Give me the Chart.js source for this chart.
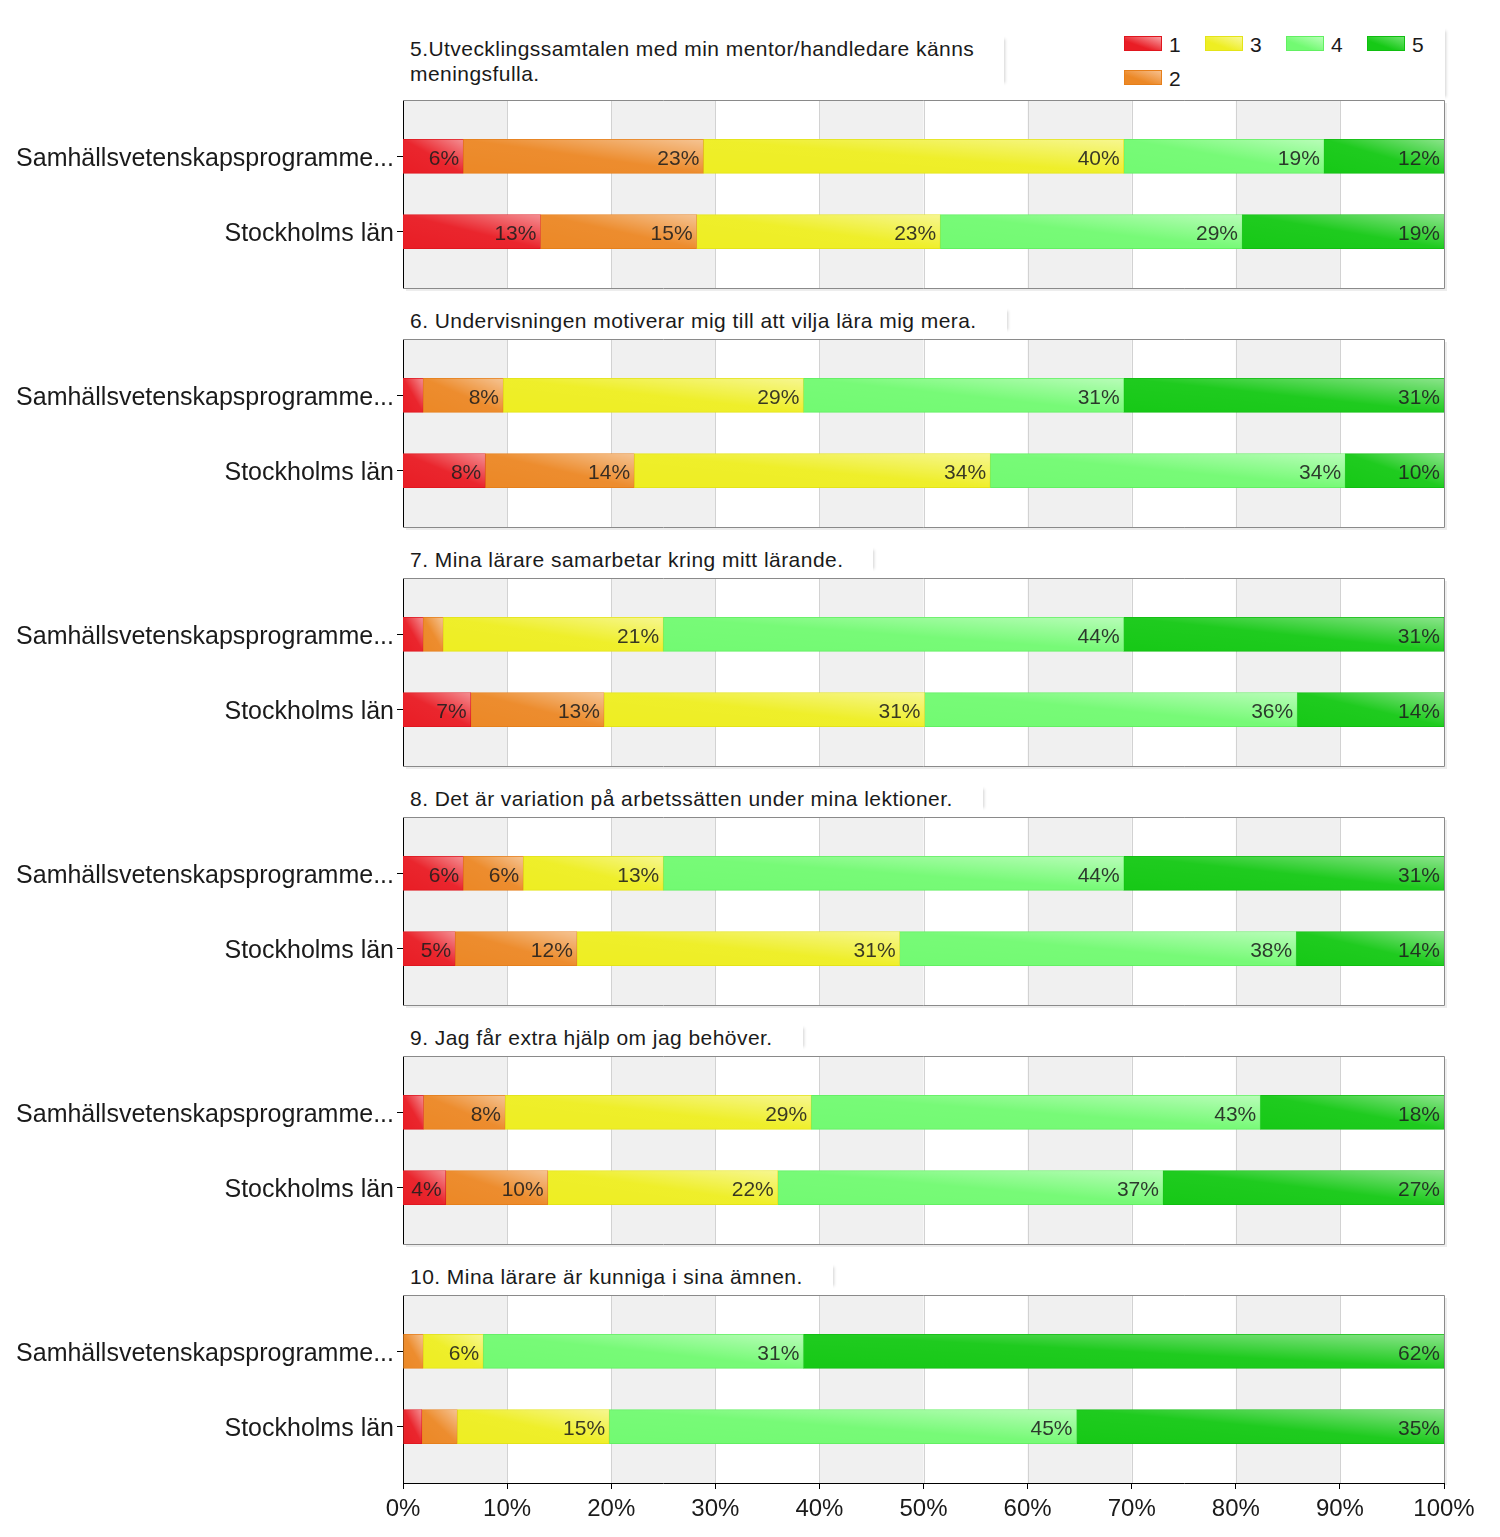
<!DOCTYPE html>
<html><head><meta charset="utf-8">
<script src="https://cdn.jsdelivr.net/npm/chart.js@4/dist/chart.umd.min.js"></script>
<style>
html,body{margin:0;padding:0;background:#fff;}
body{width:1500px;height:1537px;position:relative;overflow:hidden;font-family:"Liberation Sans",Arial,sans-serif;}
.title{position:absolute;left:403px;padding-left:7px;padding-right:30px;font-size:21px;letter-spacing:0.45px;line-height:25px;color:#1a1a1a;box-shadow:4px 0 3px -3px rgba(0,0,0,0.18);background:#fff;}
.panel{position:absolute;left:0;}
#legend{position:absolute;left:1110px;top:28px;width:335px;height:72px;box-shadow:4px 0 3px -3px rgba(0,0,0,0.18);}
.lg{position:absolute;font-size:21px;line-height:22px;color:#1a1a1a;}
.sw{position:absolute;width:38px;height:15px;box-sizing:border-box;border:1px solid;}
</style>
</head><body>
<div id="legend"></div>
<script>
// ---------- DATA ----------
const categories = ['Samhällsvetenskapsprogramme...', 'Stockholms län'];
const seriesNames = ['1', '2', '3', '4', '5'];
const questions = [
  ['5.Utvecklingssamtalen med min mentor/handledare känns', 'meningsfulla.'],
  ['6. Undervisningen motiverar mig till att vilja lära mig mera.'],
  ['7. Mina lärare samarbetar kring mitt lärande.'],
  ['8. Det är variation på arbetssätten under mina lektioner.'],
  ['9. Jag får extra hjälp om jag behöver.'],
  ['10. Mina lärare är kunniga i sina ämnen.']
];
const xTickLabels = ['0%', '10%', '20%', '30%', '40%', '50%', '60%', '70%', '80%', '90%', '100%'];

// Samhällsvetenskapsprogrammet, percent per answer, questions 5..10
const samhalls1 = [5.77, 1.92, 1.92, 5.77, 1.96, 0];
const samhalls2 = [23.08, 7.69, 1.92, 5.77, 7.84, 1.92];
const samhalls3 = [40.38, 28.85, 21.15, 13.46, 29.41, 5.77];
const samhalls4 = [19.23, 30.77, 44.23, 44.23, 43.14, 30.77];
const samhalls5 = [11.54, 30.77, 30.77, 30.77, 17.65, 61.54];

// Stockholms län, percent per answer, questions 5..10
const stockholm1 = [13.2, 7.9, 6.5, 5.0, 4.1, 1.8];
const stockholm2 = [15.0, 14.3, 12.8, 11.7, 9.8, 3.4];
const stockholm3 = [23.4, 34.2, 30.8, 31.0, 22.1, 14.6];
const stockholm4 = [29.0, 34.1, 35.8, 38.1, 37.0, 44.9];
const stockholm5 = [19.4, 9.5, 14.1, 14.2, 27.0, 35.3];

const samhallsSeries = [samhalls1, samhalls2, samhalls3, samhalls4, samhalls5];
const stockholmSeries = [stockholm1, stockholm2, stockholm3, stockholm4, stockholm5];

// ---------- STYLE ----------
const baseColors   = ['#e91d25', '#ec8826', '#eeee22', '#72fa72', '#16c916'];
const borderColors = ['#e0161e', '#e67f1a', '#e4e418', '#62f062', '#10be10'];
const lightColors  = ['#f8a0a4', '#f7c08e', '#f8f898', '#b8ffb8', '#70e470'];

const FONT = "'Liberation Sans', Arial, sans-serif";
Chart.defaults.font.family = FONT;
Chart.defaults.color = '#1a1a1a';

const PLOT_LEFT = 403, PLOT_RIGHT = 1444, BOX_H = 188, PANEL_STEP = 239, FIRST_BOX_TOP = 100;

// legend (HTML)
const legend = document.getElementById('legend');
const legendPos = [[1124, 36], [1124, 70], [1205, 36], [1286, 36], [1367, 36]];
seriesNames.forEach((n, k) => {
  const [lx, ly] = legendPos[k];
  const sw = document.createElement('div');
  sw.className = 'sw';
  sw.style.left = (lx - 1110) + 'px'; sw.style.top = (ly - 28) + 'px';
  sw.style.background = `linear-gradient(to top right, ${baseColors[k]} 35%, ${lightColors[k]})`;
  sw.style.borderColor = borderColors[k];
  legend.appendChild(sw);
  const t = document.createElement('div');
  t.className = 'lg'; t.textContent = n;
  t.style.left = (lx - 1110 + 45) + 'px'; t.style.top = (ly - 28 - 2) + 'px';
  legend.appendChild(t);
});

const panelPlugin = {
  id: 'panelDeco',
  beforeDraw(chart) {
    const { ctx, chartArea: a, scales: { x } } = chart;
    ctx.save();
    for (let i = 0; i < xTickLabels.length - 1; i++) {
      if (i % 2 === 0) {
        const x0 = x.getPixelForValue(i * 10), x1 = x.getPixelForValue((i + 1) * 10);
        ctx.fillStyle = '#f0f0f0';
        ctx.fillRect(x0, a.top, x1 - x0, a.bottom - a.top);
      }
    }
    ctx.strokeStyle = '#d2d2d2'; ctx.lineWidth = 1;
    for (let i = 1; i < xTickLabels.length - 1; i++) {
      const px = Math.round(x.getPixelForValue(i * 10)) + 0.5;
      ctx.beginPath(); ctx.moveTo(px, a.top); ctx.lineTo(px, a.bottom); ctx.stroke();
    }
    ctx.restore();
  },
  afterDatasetsDraw(chart) {
    const { ctx } = chart;
    ctx.save();
    chart.data.datasets.forEach((ds, di) => {
      const meta = chart.getDatasetMeta(di);
      meta.data.forEach((el) => {
        const x0 = Math.min(el.base, el.x), x1 = Math.max(el.base, el.x);
        const w = x1 - x0, h = el.height, y0 = el.y - h / 2;
        if (w < 0.5) return;
        ctx.save();
        ctx.beginPath(); ctx.rect(x0, y0, w, h); ctx.clip();
        ctx.translate(x0, y0); ctx.scale(w, h);
        const g = ctx.createLinearGradient(0, 1, 1, 0);
        g.addColorStop(0, 'rgba(255,255,255,0)');
        g.addColorStop(0.5, 'rgba(255,255,255,0.04)');
        g.addColorStop(1, 'rgba(255,255,255,0.5)');
        ctx.fillStyle = g; ctx.fillRect(0, 0, 1, 1);
        ctx.restore();
      });
    });
    // value labels
    ctx.font = '21px ' + FONT;
    ctx.fillStyle = 'rgba(30,30,30,0.88)';
    ctx.textAlign = 'right'; ctx.textBaseline = 'middle';
    chart.data.datasets.forEach((ds, di) => {
      const meta = chart.getDatasetMeta(di);
      meta.data.forEach((el, i) => {
        const v = Math.round(ds.data[i].x);
        if (v < 4) return;
        ctx.fillText(v + '%', Math.max(el.base, el.x) - 4, el.y + 3);
      });
    });
    ctx.restore();
  },
  afterDraw(chart) {
    const { ctx, chartArea: a } = chart;
    const last = chart.options.isLast;
    ctx.save();
    ctx.strokeStyle = 'rgba(0,0,0,0.07)'; ctx.lineWidth = 2;
    ctx.beginPath(); ctx.moveTo(a.right + 2, a.top + 3); ctx.lineTo(a.right + 2, a.bottom + 2);
    if (!last) ctx.lineTo(a.left + 3, a.bottom + 2);
    ctx.stroke();
    ctx.strokeStyle = '#8a8a8a'; ctx.lineWidth = 1;
    ctx.beginPath();
    ctx.moveTo(a.left, a.top + 0.5); ctx.lineTo(a.right + 0.5, a.top + 0.5);
    ctx.lineTo(a.right + 0.5, a.bottom + (last ? 0 : 0.5));
    if (!last) ctx.lineTo(a.left, a.bottom + 0.5);
    ctx.stroke();
    ctx.restore();
  }
};

questions.forEach((q, qi) => {
  const isLast = qi === questions.length - 1;
  const boxTop = FIRST_BOX_TOP + qi * PANEL_STEP;

  // title
  const t = document.createElement('div');
  t.className = 'title';
  t.innerHTML = q.map(s => s.replace(/&/g, '&amp;').replace(/</g, '&lt;')).join('<br>');
  const titleTop = qi === 0 ? 36 : boxTop - 31;
  t.style.top = titleTop + 'px';
  document.body.appendChild(t);

  const canvasTop = boxTop - 10;
  const canvasH = isLast ? 1537 - canvasTop : BOX_H + 20;
  const c = document.createElement('canvas');
  c.className = 'panel';
  c.width = 1500; c.height = canvasH;
  c.style.top = canvasTop + 'px';
  c.style.width = '1500px'; c.style.height = canvasH + 'px';
  document.body.appendChild(c);

  const datasets = seriesNames.map((name, k) => ({
    label: name,
    data: [
      { x: samhallsSeries[k][qi], y: 0 },
      { x: stockholmSeries[k][qi], y: 1 }
    ],
    backgroundColor: baseColors[k],
    borderColor: borderColors[k],
    borderWidth: 1,
    borderSkipped: false,
    barThickness: 34
  }));

  new Chart(c, {
    type: 'bar',
    data: { datasets },
    plugins: [panelPlugin],
    options: {
      isLast,
      indexAxis: 'y',
      responsive: false,
      animation: false,
      devicePixelRatio: 1,
      layout: { padding: { left: 0, right: 1500 - PLOT_RIGHT, top: 10, bottom: isLast ? 0 : 10 } },
      plugins: { legend: { display: false }, tooltip: { enabled: false } },
      scales: {
        x: {
          type: 'linear', stacked: true, min: 0, max: 100,
          display: isLast,
          grid: { drawOnChartArea: false, drawTicks: true, tickLength: 6, color: '#000', offset: false },
          border: { display: true, color: '#000', width: 1 },
          ticks: {
            stepSize: 10, padding: 6, maxRotation: 0, autoSkip: false,
            font: { size: 24 }, color: '#1a1a1a',
            callback: (v) => xTickLabels[Math.round(v / 10)]
          },
          afterFit: (s) => {
            if (isLast) { s.height = canvasH - 10 - BOX_H; s.paddingLeft = 0; s.paddingRight = 0; }
          }
        },
        y: {
          type: 'linear', stacked: true, offset: false, min: -0.75, max: 1.75, reverse: true,
          afterBuildTicks: (s) => { s.ticks = [{ value: 0 }, { value: 1 }]; },
          grid: { drawOnChartArea: false, drawTicks: true, tickLength: 6, color: '#000', offset: false },
          border: { display: true, color: '#000', width: 1 },
          ticks: {
            padding: 3, font: { size: 25 }, color: '#1a1a1a', labelOffset: 3,
            callback: (v) => categories[v] ?? ''
          },
          afterFit: (s) => { s.width = PLOT_LEFT; s.paddingTop = 0; s.paddingBottom = 0; }
        }
      }
    }
  });
});
</script>
</body></html>
